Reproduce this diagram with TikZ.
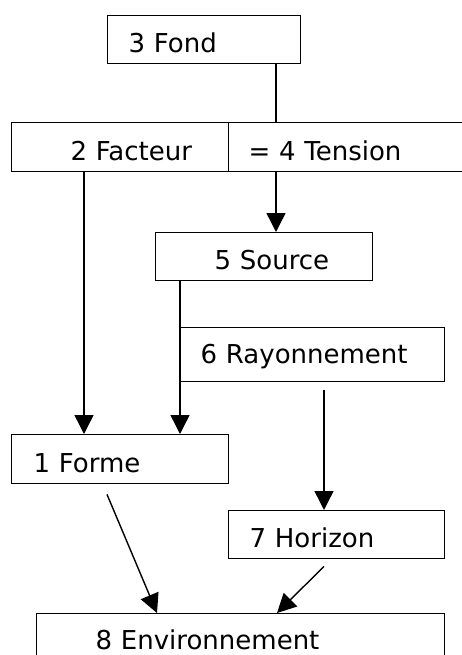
\documentclass[tikz,border=0pt]{standalone}
\usepackage{fontspec}
\setmainfont{DejaVu Sans}
\usetikzlibrary{arrows.meta}

\begin{document}
\begin{tikzpicture}[x=1pt,y=-1pt,
        boite/.style={draw,line width=1.4pt,anchor=north west,align=left,
            inner sep=0pt,text height=26pt,text depth=0pt,
            font=\fontsize{26}{30}\selectfont},
        fleche/.style={line width=1.4pt,-{Triangle[length=19pt,width=19pt]}},
        trait/.style={line width=1.4pt}]
            \useasboundingbox (0,0) rectangle (462,655);
            % les cases (largeur, hauteur, retrait du texte)
            \node[boite,minimum height=48pt,text width=193pt] (fond) at (107,15) {\hspace*{21pt}3 Fond};
            \node[boite,minimum height=49pt,text width=217pt] (facteur) at (11,122) {\hspace*{59pt}2 Facteur};
            \node[boite,minimum height=49pt,text width=250pt] (tension) at (228,122) {\hspace*{20pt}= 4 Tension};
            \node[boite,minimum height=48pt,text width=217pt] (source) at (155,232) {\hspace*{59pt}5 Source};
            \node[boite,minimum height=54pt,text width=264pt,text depth=8pt] (rayon) at (180,327) {\hspace*{20pt}6 Rayonnement};
            \node[boite,minimum height=49pt,text width=217pt] (forme) at (11,434) {\hspace*{22pt}1 Forme};
            \node[boite,minimum height=48pt,text width=216pt] (horizon) at (228,510) {\hspace*{21pt}7 Horizon};
            \node[boite,minimum height=46pt,text width=408pt] (env) at (36,613) {\hspace*{59pt}8 Environnement};
            % axes verticaux
            \coordinate (axeT) at (276,0);
            \coordinate (axeF) at (84,0);
            \coordinate (axeR) at (324,0);
            % liaisons
            \draw [trait](fond.south -| axeT) -- (tension.north -| axeT);
            \draw [fleche](tension.south -| axeT) -- (source.north -| axeT);
            \draw [fleche](facteur.south -| axeF) -- (forme.north -| axeF);
            \draw [fleche](source.south -| rayon.west) -- (forme.north -| rayon.west);
            \draw [fleche]([yshift=-8pt]rayon.south -| axeR) -- (horizon.north -| axeR);
            \draw [fleche]([yshift=-10pt]forme.south -| 107,0) -- (env.north -| 157,0);
            \draw [fleche]([yshift=-7pt]horizon.south -| axeR) -- (env.north -| 277,0);
        \end{tikzpicture}
\end{document}
